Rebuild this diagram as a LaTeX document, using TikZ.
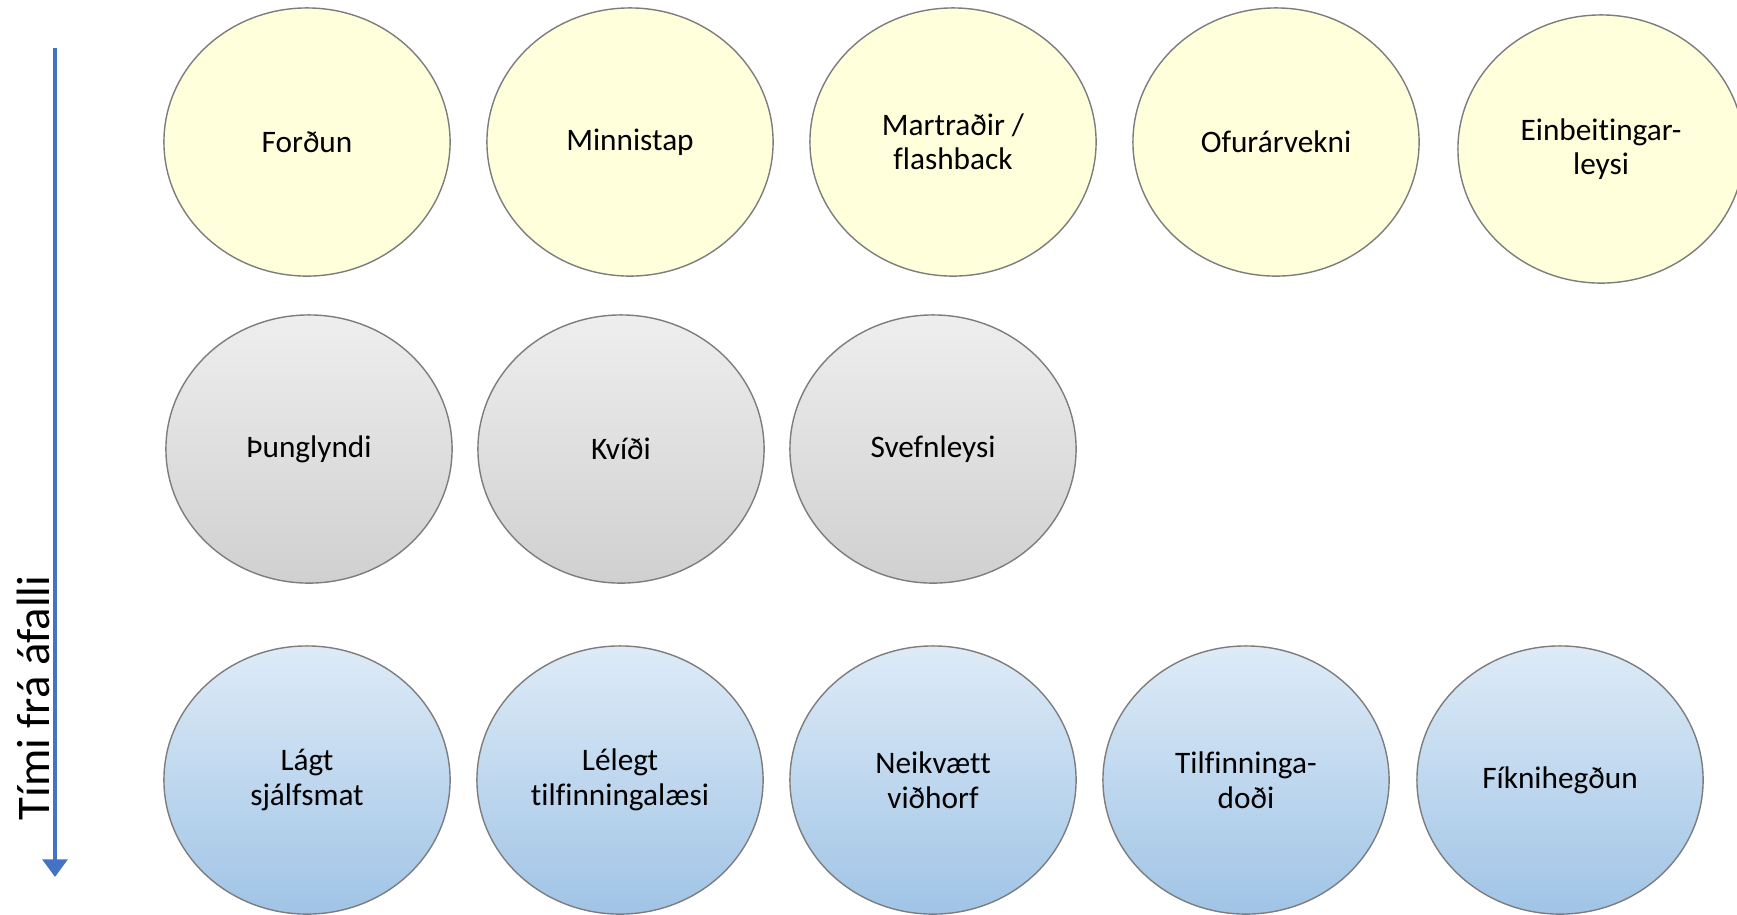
\documentclass[tikz,border=0pt]{standalone}
\usepackage{fontspec}
\setmainfont[Ligatures={NoCommon}]{Carlito}
\usetikzlibrary{shapes.geometric,arrows.meta}
\definecolor{symyellow}{RGB}{255,255,220}
\definecolor{symgraytop}{RGB}{238,238,238}
\definecolor{symgraybot}{RGB}{208,208,208}
\definecolor{symbluetop}{RGB}{222,235,247}
\definecolor{symbluebot}{RGB}{160,196,230}
\definecolor{rimgray}{RGB}{125,125,125}
\definecolor{axisblue}{RGB}{68,114,196}

\begin{document}
\begin{tikzpicture}[x=0.01cm,y=-0.01cm]
	\tikzstyle{every node}+=[font=\fontsize{8.9}{9.8}\selectfont, align=center]
	\tikzstyle{symptom}=[ellipse, draw=rimgray, line width=0.4pt, inner sep=0pt,
		minimum width=2.86cm, minimum height=2.68cm]
	\tikzstyle{early}=[symptom, fill=symyellow]
	\tikzstyle{middle}=[symptom, top color=symgraytop, bottom color=symgraybot]
	\tikzstyle{late}=[symptom, top color=symbluetop, bottom color=symbluebot]
	\useasboundingbox (0,0) rectangle (1737,914);
	% first row
	\node [early] (fordun) at (307,142) {Forðun};
	\node [early] (minnistap) at (630,142) {Minnistap};
	\node [early] (martradir) at (953,142) {Martraðir /\\flashback};
	\node [early] (ofurarvekni) at (1276,142) {Ofurárvekni};
	\node [early] (einbeiting) at (1601,149) {Einbeitingar-\\leysi};
	% second row
	\node [middle] (thunglyndi) at (309,449) {Þunglyndi};
	\node [middle] (kvidi) at (621,449) {Kvíði};
	\node [middle] (svefnleysi) at (933,449) {Svefnleysi};
	% third row
	\node [late] (sjalfsmat) at (307,780) {Lágt\\sjálfsmat};
	\node [late] (tilfinningalaesi) at (620,780) {Lélegt\\tilfinningalæsi};
	\node [late] (vidhorf) at (933,780) {Neikvætt\\viðhorf};
	\node [late] (dodi) at (1246,780) {Tilfinninga-\\doði};
	\node [late] (fikn) at (1560,780) {Fíknihegðun};
	% time axis
	\coordinate (timestart) at (55,48);
	\coordinate (timeend) at (55,877);
	\draw [axisblue, line width=1.1pt, -{Triangle[width=7pt,length=5pt]}] (timestart) -- (timeend);
	\node [rotate=90, font=\fontsize{13.3}{15}\selectfont] (timelabel) at (33,698) {Tími frá áfalli};
\end{tikzpicture}
\end{document}
